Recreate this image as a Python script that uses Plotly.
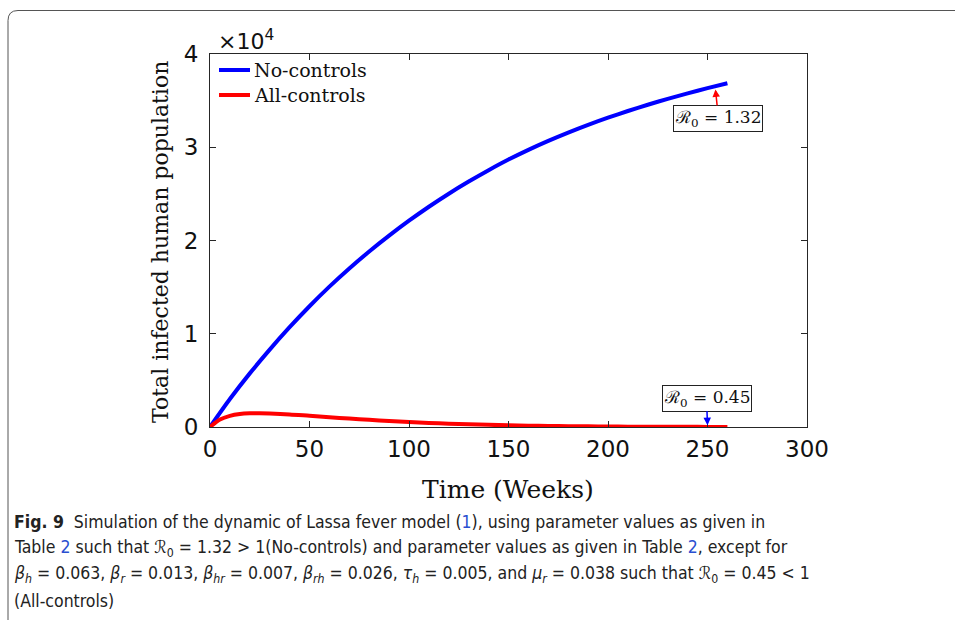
import plotly.graph_objects as go

# Simulated totals of infected humans (in units of 10^4), weekly samples
weeks_no_ctrl = [0, 10, 20, 30, 40, 50, 60, 70, 80, 90, 100, 110, 120, 130,
                 140, 150, 160, 170, 180, 190, 200, 210, 220, 230, 240, 250, 260]
infected_no_ctrl = [0.0, 0.30, 0.575, 0.83, 1.07, 1.295, 1.505, 1.70, 1.882,
                    2.052, 2.212, 2.362, 2.502, 2.632, 2.754, 2.868, 2.972,
                    3.068, 3.157, 3.24, 3.317, 3.389, 3.456, 3.519, 3.578,
                    3.634, 3.687]

weeks_all_ctrl = [0, 5, 10, 15, 20, 25, 30, 40, 50, 60, 70, 80, 90, 100, 110,
                  120, 130, 140, 150, 160, 170, 180, 190, 200, 210, 220, 230,
                  240, 250, 260]
infected_all_ctrl = [0.0, 0.08, 0.12, 0.14, 0.147, 0.148, 0.145, 0.135, 0.12,
                     0.105, 0.09, 0.077, 0.064, 0.053, 0.044, 0.036, 0.029,
                     0.023, 0.018, 0.014, 0.011, 0.009, 0.007, 0.005, 0.004,
                     0.003, 0.002, 0.002, 0.001, 0.001]

scale = 1e4
x_ticks = [0, 50, 100, 150, 200, 250, 300]
y_ticks = [0, 1, 2, 3, 4]

W, H = 955, 620
L, R, T, B = 210, 807, 54, 427  # plot area in pixels


def px(xp):
    return (xp - L) / (R - L)


def py(yp):
    return (B - yp) / (B - T)


SERIF = "DejaVu Serif, Liberation Serif, serif"
SANS = "DejaVu Sans, Liberation Sans, sans-serif"
CAP = "DejaVu Sans Condensed, Liberation Sans, sans-serif"
LINK = "#2a4fd0"
INK = "#111111"

series = [
    ("No-controls", weeks_no_ctrl, infected_no_ctrl, "#0000ff"),
    ("All-controls", weeks_all_ctrl, infected_all_ctrl, "#ff0000"),
]

fig = go.Figure()
for name, t, v, color in series:
    fig.add_trace(go.Scatter(
        x=t, y=[val * scale for val in v], mode="lines", name=name,
        line=dict(color=color, width=4, shape="spline", smoothing=0.8)))

axis_common = dict(showline=True, linecolor="#262626", linewidth=1,
                   mirror="ticks", ticks="inside", ticklen=6,
                   tickcolor="#262626", showgrid=False, zeroline=False,
                   tickfont=dict(family=SANS, size=23, color=INK))
fig.update_xaxes(range=[0, 300], tickvals=x_ticks,
                 ticktext=[str(v) for v in x_ticks], ticklabelstandoff=1,
                 **axis_common)
fig.update_yaxes(range=[0, 4 * scale], tickvals=[v * scale for v in y_ticks],
                 ticktext=[str(v) for v in y_ticks], ticklabelstandoff=6,
                 **axis_common)

ann = []
shapes = []
# axis titles
ann.append(dict(x=px(508), y=py(489), xref="paper", yref="paper",
                xanchor="center", yanchor="middle",
                text="Time (Weeks)", showarrow=False,
                font=dict(family=SERIF, size=25, color=INK)))
ann.append(dict(x=px(160), y=py(242), xref="paper", yref="paper",
                xanchor="center", yanchor="middle",
                text="Total infected human population", textangle=-90,
                showarrow=False, font=dict(family=SERIF, size=22, color=INK)))
# exponent multiplier
ann.append(dict(x=px(216), y=py(40), xref="paper", yref="paper",
                xanchor="left", yanchor="middle", text="×10<sup>4</sup>",
                showarrow=False, font=dict(family=SANS, size=22, color=INK)))

# legend key (upper left, no frame)
for i, (name, t, v, color) in enumerate(series):
    yc = 70 + 25 * i
    shapes.append(dict(type="line", xref="paper", yref="paper",
                       x0=px(219), x1=px(250), y0=py(yc), y1=py(yc),
                       line=dict(color=color, width=4)))
    ann.append(dict(x=px(252), y=py(yc), xref="paper", yref="paper",
                    xanchor="left", yanchor="middle", text=name,
                    showarrow=False, font=dict(family=SERIF, size=19, color=INK)))

# R0 call-outs
ann.append(dict(x=254, y=3.62 * scale, xref="x", yref="y",
                text="ℛ<sub>0</sub> = 1.32", showarrow=True,
                arrowhead=2, arrowsize=1, arrowwidth=1.5, arrowcolor="#ff0000",
                ax=3, ay=29, bordercolor="#222", borderwidth=1, borderpad=1,
                bgcolor="white", font=dict(family=SERIF, size=17, color=INK)))
ann.append(dict(x=250, y=0.02 * scale, xref="x", yref="y",
                text="ℛ<sub>0</sub> = 0.45", showarrow=True,
                arrowhead=2, arrowsize=1, arrowwidth=1.5, arrowcolor="#0000ff",
                ax=-1, ay=-27, bordercolor="#222", borderwidth=1, borderpad=1,
                bgcolor="white", font=dict(family=SERIF, size=17, color=INK)))

# caption
def link(s):
    return f"<span style='color:{LINK}'>{s}</span>"


caption = [
    "<b>Fig. 9</b>  Simulation of the dynamic of Lassa fever model (" + link("1")
    + "), using parameter values as given in",
    "Table " + link("2") + " such that ℛ<sub>0</sub> = 1.32 > 1(No-controls) and "
    "parameter values as given in Table " + link("2") + ", except for",
    "<i>β<sub>h</sub></i> = 0.063, <i>β<sub>r</sub></i> = 0.013, "
    "<i>β<sub>hr</sub></i> = 0.007, <i>β<sub>rh</sub></i> = 0.026, "
    "<i>τ<sub>h</sub></i> = 0.005, and <i>μ<sub>r</sub></i> = 0.038 such that "
    "ℛ<sub>0</sub> = 0.45 < 1",
    "(All-controls)",
]
for i, line in enumerate(caption):
    ann.append(dict(x=px(12), y=py(522 + 26.3 * i), xref="paper", yref="paper",
                    xanchor="left", yanchor="middle", text=line, showarrow=False,
                    font=dict(family=CAP, size=17.5, color="#222")))

# card border: top and left edges with a rounded corner
r = 10
x0, y0 = 8, 10.5
path = (f"M {px(x0)},{py(H + 5)} L {px(x0)},{py(y0 + r)} "
        f"Q {px(x0)},{py(y0)} {px(x0 + r)},{py(y0)} L {px(W + 5)},{py(y0)}")
shapes.append(dict(type="path", path=path, xref="paper", yref="paper",
                   line=dict(color="#555", width=1)))

fig.update_layout(
    width=W, height=H,
    margin=dict(l=L, r=W - R, t=T, b=H - B),
    paper_bgcolor="white", plot_bgcolor="white",
    annotations=ann, shapes=shapes,
    showlegend=False,
)

fig.write_html("out.html")
